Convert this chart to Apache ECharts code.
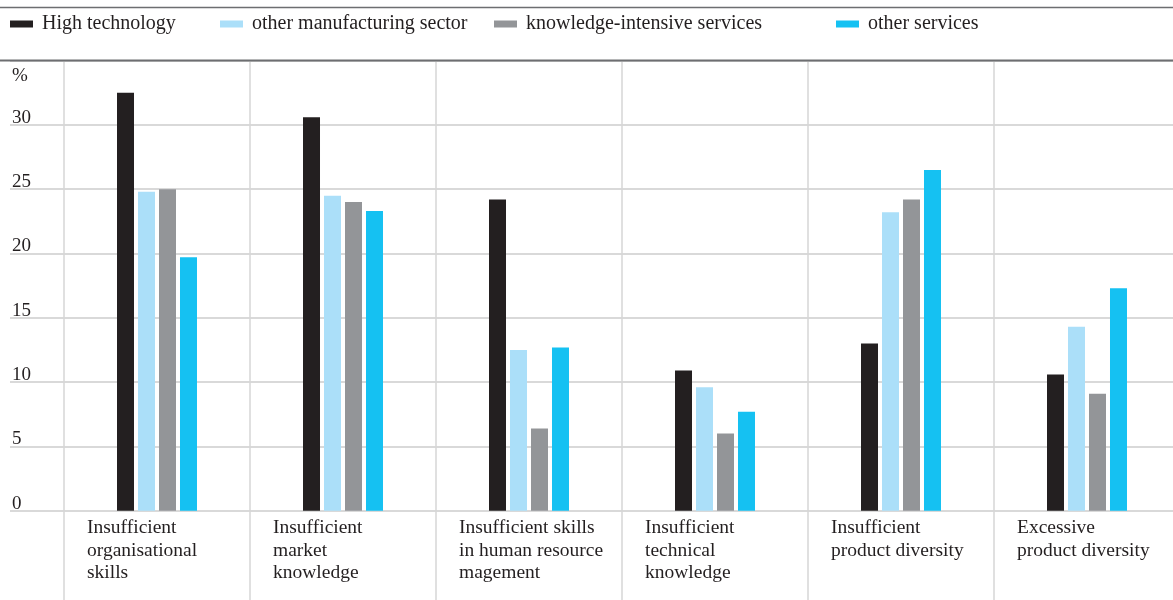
<!DOCTYPE html>
<html>
<head>
<meta charset="utf-8">
<script src="https://cdn.jsdelivr.net/npm/echarts@6/dist/echarts.min.js"></script>
<style>
  html, body { margin: 0; padding: 0; background: #ffffff; }
  #chart { width: 1173px; height: 600px; }
</style>
</head>
<body>
<div id="chart"></div>
<script>
const categories = [
  'Insufficient\norganisational\nskills',
  'Insufficient\nmarket\nknowledge',
  'Insufficient skills\nin human resource\nmagement',
  'Insufficient\ntechnical\nknowledge',
  'Insufficient\nproduct diversity',
  'Excessive\nproduct diversity'
];
const seriesNames = ['High technology', 'other manufacturing sector', 'knowledge-intensive services', 'other services'];
const highTech      = [32.5, 30.6, 24.2, 10.9, 13.0, 10.6];
const otherManuf    = [24.8, 24.5, 12.5, 9.6, 23.2, 14.3];
const knowledgeServ = [25.0, 24.0, 6.4, 6.0, 24.2, 9.1];
const otherServ     = [19.7, 23.3, 12.7, 7.7, 26.5, 17.3];
const yTicks = { min: 0, max: 35, interval: 5 };

const colors = ['#231f20', '#abdff9', '#939598', '#15c1f2'];
const textColor = '#231f20';
const font = 'Liberation Serif';
const values = [highTech, otherManuf, knowledgeServ, otherServ];
const legendLefts = [10, 220, 494, 836];

const chart = echarts.init(document.getElementById('chart'), null, { renderer: 'canvas' });

const option = {
  backgroundColor: '#ffffff',
  animation: false,
  textStyle: { fontFamily: font, color: textColor },
  legend: seriesNames.map((n, i) => ({
    data: [n],
    left: legendLefts[i],
    top: 14,
    padding: 0,
    icon: 'rect',
    itemWidth: 23,
    itemHeight: 7,
    textStyle: { fontFamily: font, fontSize: 20, color: textColor, padding: [0, 0, 0, 4] },
    selectedMode: false
  })),
  graphic: [
    { type: 'line', shape: { x1: 0, y1: 7.5, x2: 1173, y2: 7.5 }, style: { stroke: '#6d6e71', lineWidth: 1.5 }, z: 10 },
    { type: 'line', shape: { x1: 0, y1: 60.5, x2: 1173, y2: 60.5 }, style: { stroke: '#6d6e71', lineWidth: 2 }, z: 10 }
  ],
  grid: [
    { left: 10, right: 0, top: 60.6, bottom: 89.3, outerBoundsMode: 'none', containLabel: false },
    { left: 64, right: -7, top: 60.6, bottom: 89.3, outerBoundsMode: 'none', containLabel: false }
  ],
  xAxis: [
    { gridIndex: 0, type: 'value', show: false, min: 0, max: 1 },
    {
      gridIndex: 1, type: 'category', data: categories, boundaryGap: true,
      axisLine: { show: false },
      axisTick: { show: true, length: 90, lineStyle: { color: '#d6d6d6', width: 1.5 } },
      axisLabel: { show: false },
      splitLine: { show: true, lineStyle: { color: '#d6d6d6', width: 1.5 } }
    },
    {
      gridIndex: 1, type: 'category', position: 'bottom', data: categories.concat(['']), boundaryGap: false,
      axisLine: { show: false }, axisTick: { show: false }, splitLine: { show: false },
      axisLabel: {
        interval: 0, align: 'left', verticalAlign: 'top', margin: 6,
        padding: [0, 0, 0, 23],
        fontFamily: font, fontSize: 19.5, lineHeight: 22.5, color: textColor
      }
    }
  ],
  yAxis: [
    {
      gridIndex: 0, type: 'value', min: yTicks.min, max: yTicks.max, interval: yTicks.interval,
      name: '%', nameLocation: 'end', nameGap: -6,
      nameTextStyle: { fontFamily: font, fontSize: 19, color: textColor, align: 'left', verticalAlign: 'top', padding: [0, 0, 0, 2] },
      axisLine: { show: false }, axisTick: { show: false },
      axisLabel: {
        inside: true, margin: 2, verticalAlign: 'bottom', align: 'left',
        fontFamily: font, fontSize: 19, lineHeight: 14, color: textColor,
        formatter: v => (v === yTicks.max ? '' : String(v))
      },
      splitLine: { show: true, lineStyle: { color: '#cccccc', width: 1.5 } }
    },
    {
      gridIndex: 1, type: 'value', min: yTicks.min, max: yTicks.max, interval: yTicks.interval,
      show: false, splitLine: { show: false }
    }
  ],
  series: seriesNames.map((n, i) => ({
    name: n,
    type: 'bar',
    xAxisIndex: 1,
    yAxisIndex: 1,
    data: values[i],
    barWidth: 17,
    barGap: '23.5%',
    itemStyle: { color: colors[i] }
  }))
};

chart.setOption(option);
</script>
</body>
</html>
